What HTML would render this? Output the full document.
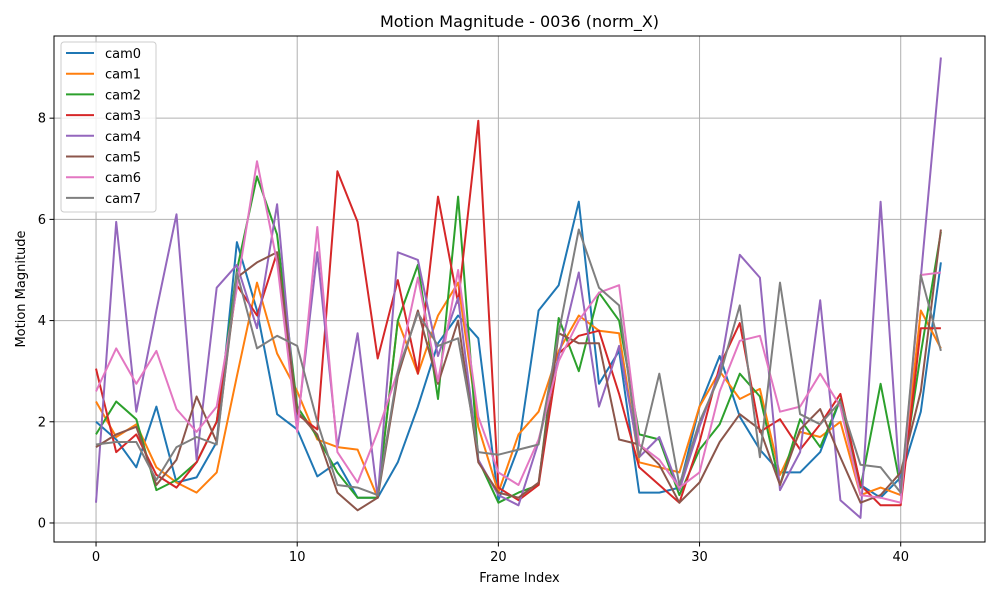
<!DOCTYPE html>
<html><head><meta charset="utf-8"><style>
body{margin:0;background:#fff;font-family:"Liberation Sans","DejaVu Sans",sans-serif}
svg text{font-family:"DejaVu Sans","Liberation Sans",sans-serif}
</style></head><body>
<svg id="chart" width="1000" height="600" xmlns="http://www.w3.org/2000/svg"></svg>
<script>
const seriesNames=["cam0","cam1","cam2","cam3","cam4","cam5","cam6","cam7"];
const colors=["#1f77b4","#ff7f0e","#2ca02c","#d62728","#9467bd","#8c564b","#e377c2","#7f7f7f"];
const cam0=[2.0,1.65,1.1,2.3,0.8,0.9,1.6,5.55,4.2,2.15,1.85,0.92,1.2,0.5,0.5,1.2,2.3,3.55,4.1,3.65,0.45,1.5,4.2,4.7,6.35,2.75,3.4,0.6,0.6,0.7,2.3,3.3,2.1,1.45,1.0,1.0,1.4,2.45,0.75,0.5,0.9,2.2,5.15];
const cam1=[2.4,1.7,1.95,1.1,0.8,0.6,1.0,2.9,4.75,3.35,2.6,1.65,1.5,1.45,0.5,4.0,2.95,4.1,4.75,1.9,0.6,1.75,2.2,3.4,4.1,3.8,3.75,1.2,1.1,1.0,2.3,3.0,2.45,2.65,0.95,1.8,1.7,2.0,0.55,0.7,0.55,4.2,3.45];
const cam2=[1.75,2.4,2.05,0.65,0.85,1.2,2.0,5.0,6.85,5.7,2.3,1.7,1.0,0.5,0.5,4.0,5.1,2.45,6.45,1.25,0.4,0.6,0.75,4.05,3.0,4.55,4.0,1.75,1.65,0.55,1.45,1.95,2.95,2.5,0.75,2.05,1.5,2.45,0.7,2.75,0.7,3.35,5.75];
const cam3=[3.05,1.4,1.75,0.95,0.7,1.2,2.0,4.7,4.1,5.35,2.15,1.85,6.95,5.95,3.25,4.8,2.95,6.45,4.35,7.95,0.7,0.45,0.75,3.35,3.7,3.8,2.55,1.1,0.75,0.4,1.6,3.1,3.95,1.8,2.05,1.45,1.95,2.55,0.75,0.35,0.35,3.85,3.85];
const cam4=[0.4,5.95,2.2,4.2,6.1,1.25,4.65,5.1,3.85,6.3,1.9,5.35,1.5,3.75,0.5,5.35,5.2,3.3,4.45,1.25,0.55,0.35,1.6,3.3,4.95,2.3,3.5,1.3,1.7,0.65,1.9,3.0,5.3,4.85,0.65,1.4,4.4,0.45,0.1,6.35,0.55,4.85,9.2];
const cam5=[1.5,1.75,1.9,0.75,1.25,2.5,1.6,4.85,5.15,5.35,2.2,1.75,0.6,0.25,0.5,2.9,4.2,2.75,4.0,1.2,0.6,0.5,0.8,3.75,3.55,3.55,1.65,1.55,1.15,0.4,0.8,1.6,2.15,1.85,0.75,1.85,2.25,1.3,0.4,0.55,1.0,2.6,5.8];
const cam6=[2.6,3.45,2.75,3.4,2.25,1.8,2.3,4.65,7.15,5.15,1.8,5.85,1.4,0.8,1.8,3.0,4.85,2.8,5.0,2.1,1.0,0.75,1.65,3.2,4.0,4.55,4.7,1.55,1.25,0.7,1.0,2.6,3.6,3.7,2.2,2.3,2.95,2.3,0.55,0.5,0.4,4.9,4.95];
const cam7=[1.55,1.6,1.6,0.85,1.5,1.7,1.55,4.95,3.45,3.7,3.5,2.0,0.75,0.7,0.55,3.0,4.15,3.5,3.65,1.4,1.35,1.45,1.55,3.75,5.8,4.65,4.3,1.3,2.95,0.75,2.0,2.9,4.3,1.3,4.75,2.15,1.95,2.4,1.15,1.1,0.6,4.9,3.4];
const allSeries=[cam0,cam1,cam2,cam3,cam4,cam5,cam6,cam7];
const xTicks=[0,10,20,30,40];
const yTicks=[0,2,4,6,8];

const L=54,R=985,T=36,B=542;
const x0=-2.09,x1=44.19,y0=-0.376,y1=9.624;
const sx=v=>L+(v-x0)/(x1-x0)*(R-L);
const sy=v=>B-(v-y0)/(y1-y0)*(B-T);
const NS="http://www.w3.org/2000/svg";
const svg=document.getElementById('chart');
function mk(tag,attrs,parent){const e=document.createElementNS(NS,tag);for(const k in attrs)e.setAttribute(k,attrs[k]);(parent||svg).appendChild(e);return e;}

const grid=mk('g',{});


xTicks.forEach(t=>{
  const l=mk('line',{x1:sx(t),x2:sx(t),y1:T,y2:B,stroke:'#b0b0b0','stroke-width':1},grid);
  
  
  const tk=mk('line',{x1:sx(t),x2:sx(t),y1:B,y2:B+4.5,stroke:'#000','stroke-width':1});
  
  
  const tx=mk('text',{x:sx(t),y:B+19,'text-anchor':'middle','font-size':13,fill:'#000'});
  tx.textContent=t;
  
  
});
yTicks.forEach(t=>{
  const l=mk('line',{x1:L,x2:R,y1:sy(t),y2:sy(t),stroke:'#b0b0b0','stroke-width':1},grid);
  
  
  const tk=mk('line',{x1:L-4.5,x2:L,y1:sy(t),y2:sy(t),stroke:'#000','stroke-width':1});
  
  
  const tx=mk('text',{x:L-8,y:sy(t)+4.5,'text-anchor':'end','font-size':13,fill:'#000'});
  tx.textContent=t;
  
  
});

allSeries.forEach((s,i)=>{
  const pts=s.map((v,j)=>sx(j).toFixed(1)+','+sy(v).toFixed(1)).join(' ');
  const p=mk('polyline',{points:pts,fill:'none',stroke:colors[i],'stroke-width':2,'stroke-linejoin':'round'});
  
  
});

const frame=mk('rect',{x:L,y:T,width:R-L,height:B-T,fill:'none',stroke:'#000','stroke-width':1});



const title=mk('text',{x:(L+R)/2,y:27,'text-anchor':'middle','font-size':16,fill:'#000'});
title.textContent='Motion Magnitude - 0036 (norm_X)';


const xl=mk('text',{x:(L+R)/2,y:582,'text-anchor':'middle','font-size':13,fill:'#000'});
xl.textContent='Frame Index';


const yl=mk('text',{x:0,y:0,'text-anchor':'middle','font-size':13,fill:'#000',transform:'translate(25,289) rotate(-90)'});
yl.textContent='Motion Magnitude';



const lg=mk('g',{});


mk('rect',{x:61,y:42,width:95,height:170,rx:3,fill:'#fff','fill-opacity':0.8,stroke:'#ccc','stroke-width':1},lg);
seriesNames.forEach((n,i)=>{
  const y=53+i*20.7;
  const ln=mk('line',{x1:66,x2:94,y1:y,y2:y,stroke:colors[i],'stroke-width':2},lg);
  
  
  const t=mk('text',{x:105,y:y+5,'font-size':13,fill:'#000'},lg);
  t.textContent=n;
  
  
});
</script>
</body></html>
